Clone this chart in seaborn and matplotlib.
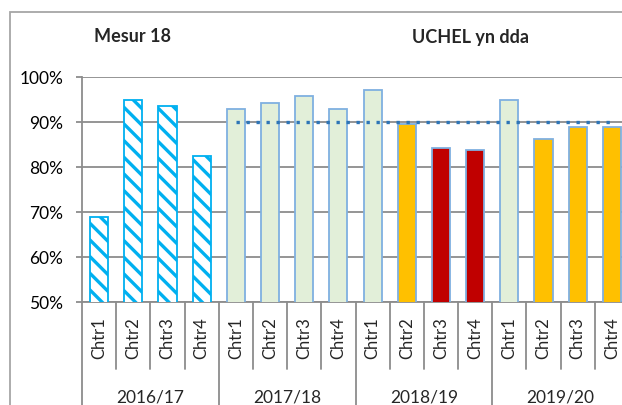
import matplotlib
matplotlib.use("Agg")
import matplotlib.pyplot as plt
from matplotlib.patches import Rectangle
from matplotlib.ticker import PercentFormatter
import seaborn as sns
import pandas as pd

# data
periods = ['2016/17', '2017/18', '2018/19', '2019/20']
quarters = ['Chtr1', 'Chtr2', 'Chtr3', 'Chtr4']
values_1617 = [69.0, 95.0, 93.5, 82.5]
values_1718 = [93.0, 94.3, 95.7, 93.0]
values_1819 = [97.2, 89.6, 84.2, 83.7]
values_1920 = [95.0, 86.2, 88.8, 88.8]
ratings = (['baseline'] * 4 + ['met'] * 4
           + ['met', 'near', 'below', 'below']
           + ['met', 'near', 'near', 'near'])
target = 90.0
target_from = '2017/18'

palette = {'baseline': '#ffffff', 'met': '#e2efd9',
           'near': '#ffc000', 'below': '#c00000'}

rows = []
for p, vals in zip(periods, [values_1617, values_1718, values_1819, values_1920]):
    for q, v in zip(quarters, vals):
        rows.append({'period': p, 'quarter': q, 'key': p + ' ' + q, 'value': v / 100})
df = pd.DataFrame(rows)
df['rating'] = ratings

sns.set_style('white')
plt.rcParams['font.family'] = ['Lato', 'DejaVu Sans']
plt.rcParams['hatch.linewidth'] = 2.4

W, H = 622, 406
fig = plt.figure(figsize=(W / 100, H / 100), dpi=100)
# plot area in pixels: left 82, right 629 (runs off the crop), top 78, bottom 303
ax = fig.add_axes([82 / W, (H - 303) / H, (629 - 82) / W, (303 - 78) / H])

grid_col = '#8c8c8c'
edge_col = '#7fb0e0'

sns.barplot(data=df, x='key', y='value', hue='rating', palette=palette,
            order=list(df['key']), dodge=False, width=0.53, legend=False,
            saturation=1, edgecolor=edge_col, linewidth=1.3, ax=ax, zorder=3)

for bar in ax.patches:
    r, g, b, a = bar.get_facecolor()
    if r > 0.99 and g > 0.99 and b > 0.99:
        bar.set_hatch('\\\\')
        bar.set_edgecolor('#00b0f0')

# target line from the first quarter of target_from to the last bar
keys = list(df['key'])
start = keys.index(target_from + ' ' + quarters[0])
end = len(keys) - 1
ax.plot([start, end], [target / 100, target / 100], color='#2e75b6',
        linestyle=(0, (1, 2.0)), linewidth=2.4, zorder=4)

ax.set_ylim(0.5, 1.0)
ax.set_xlim(-0.5, len(keys) - 0.5)
ax.set_yticks([0.5, 0.6, 0.7, 0.8, 0.9, 1.0])
ax.yaxis.set_major_formatter(PercentFormatter(1.0, decimals=0))
ax.yaxis.grid(True, color=grid_col, linewidth=1.3, zorder=0)
ax.set_axisbelow(True)
ax.set_xlabel('')
ax.set_ylabel('')

for s in ['top', 'right']:
    ax.spines[s].set_visible(False)
for s in ['left', 'bottom']:
    ax.spines[s].set_color(grid_col)
    ax.spines[s].set_linewidth(1.3)

ax.tick_params(axis='y', left=True, length=4.5, width=1.3, color=grid_col,
               pad=9, labelsize=12.5, labelcolor='#000000')
ax.set_xticks(range(len(keys)))
ax.set_xticklabels(df['quarter'], rotation=90, fontsize=12)
ax.tick_params(axis='x', bottom=False, length=0, pad=10.5)

# multi-level category axis separators
xt = ax.get_xaxis_transform()
n_q = len(quarters)
for i in range(len(keys) + 1):
    x = i - 0.5
    if i % n_q == 0:
        ax.plot([x, x], [0, -0.5], color=grid_col, linewidth=1.3,
                transform=xt, clip_on=False)
    else:
        ax.plot([x, x], [0, -0.298], color=grid_col, linewidth=1.3,
                transform=xt, clip_on=False)
for j, p in enumerate(periods):
    ax.text(j * n_q + (n_q - 1) / 2, -0.418, p, transform=xt, ha='center',
            va='center', fontsize=12.5)

# chart frame and text boxes
fig.add_artist(Rectangle((10 / W, -0.5), 2, 1.5 - 13 / H, transform=fig.transFigure,
                         fill=False, edgecolor='#a6a6a6', linewidth=1.3))
fig.text(132 / W, 1 - 36 / H, 'Mesur 18', ha='center', va='center',
         fontsize=13, fontweight='bold')
fig.text(471 / W, 1 - 37 / H, 'UCHEL yn dda', ha='center', va='center',
         fontsize=13, fontweight='bold')

fig.savefig('out.png', dpi=100)
